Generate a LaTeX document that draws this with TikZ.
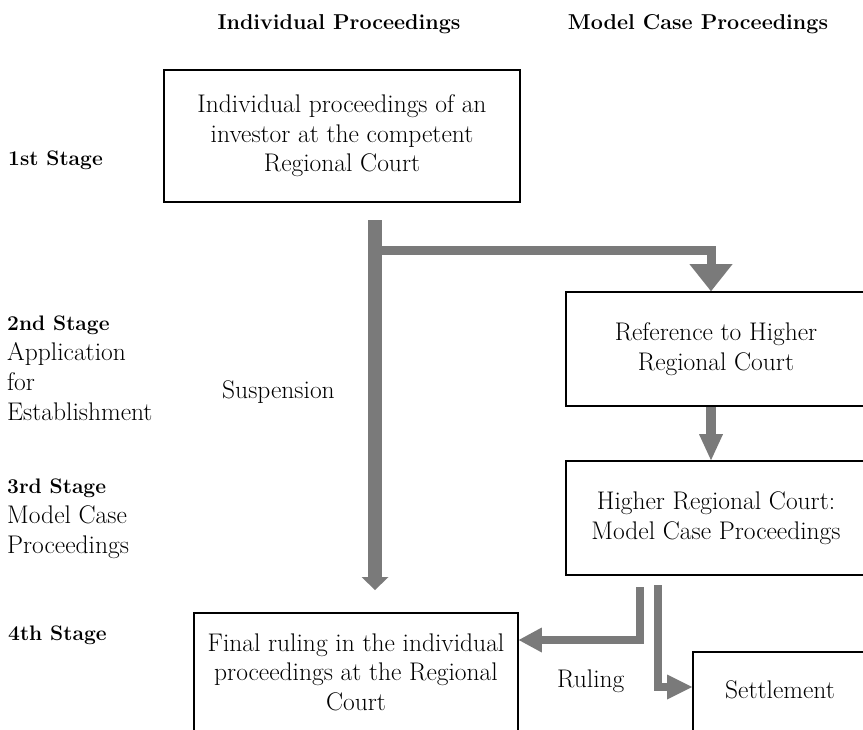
\documentclass[tikz,border=0pt]{standalone}
\usepackage{fontspec}
\usetikzlibrary{arrows.meta}
\definecolor{arrgray}{RGB}{122,122,122}
\begin{document}
\begin{tikzpicture}[x=1pt,y=-1pt,
  box/.style={draw,line width=1.6pt,align=center,inner sep=0pt,font=\fontsize{25.5}{29.5}\selectfont},
  lbl/.style={anchor=base west,inner sep=0pt,font=\fontsize{25.5}{29.5}\selectfont},
  blbl/.style={lbl,font=\fontsize{21}{29.5}\selectfont\bfseries},
  hdr/.style={anchor=base,inner sep=0pt,font=\fontsize{21.5}{24}\selectfont\bfseries},
  flow/.style={draw=arrgray,line width=9pt,line join=miter}]
\useasboundingbox (0,0) rectangle (863,729);
\clip (0,0) rectangle (863,729);

% headers
\node[hdr] (h1) at (339,29) {Individual Proceedings};
\node[hdr] (h2) at (698,29) {Model Case Proceedings};

% stage labels
\node[blbl] (s1) at (8,165) {1st Stage};
\node[blbl] (s2) at (7,330) {2nd Stage};
\node[lbl] (s2a) at (7,360) {Application};
\node[lbl] (s2b) at (7,390) {for};
\node[lbl] (s2c) at (7,420) {Establishment};
\node[blbl] (s3) at (7,493) {3rd Stage};
\node[lbl] (s3a) at (7,523) {Model Case};
\node[lbl] (s3b) at (7,553) {Proceedings};
\node[blbl] (s4) at (8,640) {4th Stage};

% boxes
\node[box,minimum width=356pt,minimum height=132pt] (b1) at (342,136)
  {Individual proceedings of an\\investor at the competent\\Regional Court};
\node[box,minimum width=300pt,minimum height=114pt] (b2) at (716,349)
  {Reference to Higher\\Regional Court};
\node[box,minimum width=300pt,minimum height=114pt] (b3) at (716,518)
  {Higher Regional Court:\\Model Case Proceedings};
\node[box,minimum width=324pt,minimum height=118pt] (b4) at (356,672)
  {Final ruling in the individual\\proceedings at the Regional\\Court};
\node[box,minimum width=174pt,minimum height=80pt,text depth=5.7pt] (b5) at (780,692)
  {Settlement};

% free labels
\node[lbl] (susp) at (222,398) {Suspension};
\node[lbl] (rul) at (557,687) {Ruling};

% connectors
\coordinate (m0) at (375,220);
\coordinate (m1) at (375,590);
\coordinate (m2) at (375,250);
\draw[flow,line width=14pt,-{Triangle[width=27pt,length=13pt,line width=0pt]}] (m0) -- (m1);
\draw[flow,-{Triangle[width=43pt,length=27pt,line width=0pt]}] (m2) -| ([xshift=-5pt]b2.north);
\draw[flow,line width=10pt,-{Triangle[width=24pt,length=26pt,line width=0pt]}] ([xshift=-5pt]b2.south) -- ([xshift=-5pt]b3.north);
\coordinate (r1) at (640,587);
\coordinate (k1) at (640,640);
\coordinate (r2) at (658,585);
\coordinate (k2) at (658,687);
\draw[flow,line width=8.5pt,-{Triangle[width=25pt,length=23pt,line width=0pt]}] (r1) |- (k1 -| b4.east);
\draw[flow,line width=8.5pt,-{Triangle[width=25pt,length=25pt,line width=0pt]}] (r2) |- (k2 -| b5.west);
\end{tikzpicture}
\end{document}
